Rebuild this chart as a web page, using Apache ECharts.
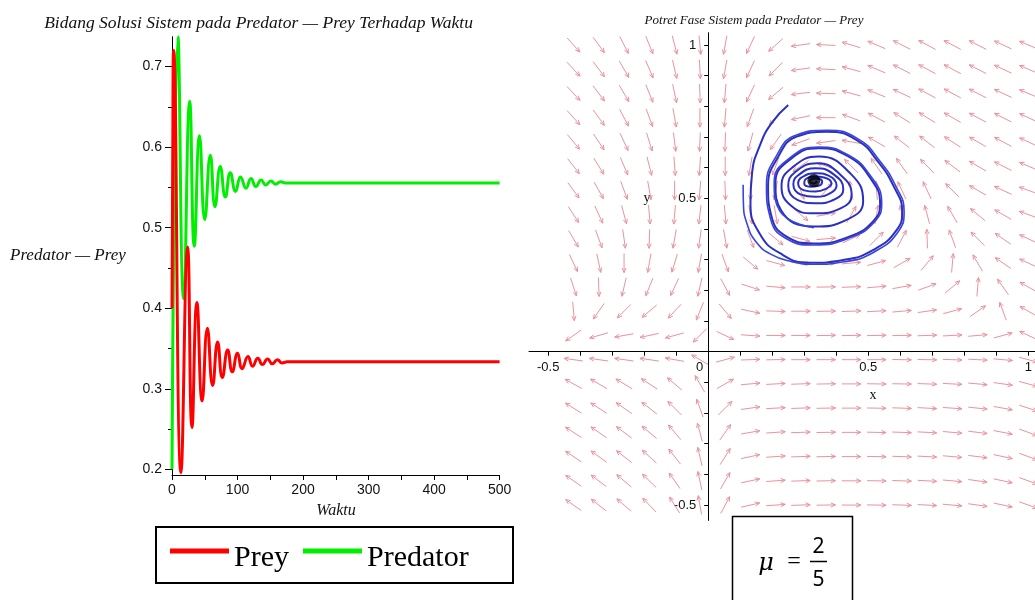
<!DOCTYPE html>
<html><head><meta charset="utf-8">
<script src="https://cdn.jsdelivr.net/npm/echarts@6/dist/echarts.min.js"></script>
<style>html,body{margin:0;padding:0;background:#fff}#c{width:1035px;height:600px}</style>
</head><body><div id="c"></div>
<script>
// ---- Left panel: time series (extrema) ----
const preyT   = [0, 1.2, 2.5, 13.7, 23.8, 30.5, 38, 46, 54, 62, 69.6, 76.8, 85, 92, 100, 107, 116, 123, 131, 138, 146, 153, 161, 168, 176, 500];
const preyV   = [0.40, 0.60, 0.72, 0.196, 0.476, 0.252, 0.407, 0.285, 0.375, 0.304, 0.358, 0.314, 0.348, 0.321, 0.344, 0.325, 0.340, 0.328, 0.338, 0.330, 0.337, 0.331, 0.336, 0.332, 0.3335, 0.3335];
const predT   = [0, 9, 17.8, 27, 34, 42, 50, 58.5, 65.6, 73.7, 81.4, 89, 97, 104.6, 113, 120.6, 128, 136, 143, 151, 158, 166, 173, 500];
const predV   = [0.20, 0.737, 0.412, 0.657, 0.477, 0.614, 0.510, 0.590, 0.526, 0.576, 0.538, 0.568, 0.545, 0.563, 0.549, 0.561, 0.551, 0.559, 0.553, 0.558, 0.554, 0.557, 0.5555, 0.5555];
const leftXTicks  = [0, 50, 100, 150, 200, 250, 300, 350, 400, 450, 500];
const leftXLabels = [0, 100, 200, 300, 400, 500];
const leftYMajor  = [0.2, 0.3, 0.4, 0.5, 0.6, 0.7];
const leftYMinor  = [0.25, 0.35, 0.45, 0.55, 0.65];

// ---- Right panel: phase portrait ----
const rightTicks   = [-0.5, -0.4, -0.3, -0.2, -0.1, 0, 0.1, 0.2, 0.3, 0.4, 0.5, 0.6, 0.7, 0.8, 0.9, 1.0];
const rightXLabels = [-0.5, 0, 0.5, 1];
const rightYLabels = [-0.5, 0.5, 1];
const fieldX = [-0.421, -0.342, -0.263, -0.184, -0.105, -0.026, 0.053, 0.132, 0.211, 0.289, 0.368, 0.447, 0.526, 0.605, 0.684, 0.763, 0.842, 0.921, 1.0];
const fieldY = [1.0, 0.921, 0.842, 0.763, 0.684, 0.605, 0.526, 0.447, 0.368, 0.289, 0.211, 0.132, 0.053, -0.026, -0.105, -0.184, -0.263, -0.342, -0.421, -0.5];
// arrow directions (degrees, 0 = right, 90 = up), one row per fieldY
const fieldAngle = [
 [-48,-54,-63,-68,-76,-85,-100,-115,222,188,177,163,157,153,152,152,153,155,157],
 [-47,-53,-60,-67,-77,-87,-100,-115,225,188,177,165,157,153,152,152,153,155,157],
 [-47,-53,-60,-68,-78,-88,-95,-115,220,187,178,165,158,155,152,152,153,155,157],
 [-48,-54,-62,-70,-80,-90,-95,-110,228,192,180,160,152,148,148,150,152,153,155],
 [-50,-56,-65,-73,-83,-92,-92,-105,235,200,188,170,150,142,142,147,150,152,155],
 [-52,-58,-67,-76,-86,-94,-90,-100,250,215,160,135,125,125,135,143,150,153,157],
 [-54,-61,-70,-80,-90,-95,-88,-90,-100,-70,50,100,95,115,115,135,150,155,160],
 [-57,-65,-75,-85,-95,-97,-85,-80,-80,-40,10,60,80,100,105,120,140,150,160],
 [-60,-70,-82,-92,-100,-98,-80,-70,-40,-15,5,25,45,62,92,110,135,145,155],
 [-65,-78,-90,-100,-107,-100,-70,-40,-15,-5,0,5,15,30,50,85,120,145,155],
 [-72,-88,-103,-112,-115,-103,-62,-18,-5,0,1,2,5,10,20,40,85,125,150],
 [-85,-125,-135,-140,-133,-112,-50,-12,-2,0,1,2,3,5,8,15,35,110,150],
 [215,196,190,192,195,225,-25,-4,0,0,1,1,1,1,2,3,5,15,155],
 [172,172,172,172,170,150,15,2,1,0,0,0,0,-1,-1,-2,-3,-5,-15],
 [151,150,149,147,140,120,30,5,3,2,1,0,-1,-1,-2,-3,-5,-8,-15],
 [148,147,145,142,135,110,45,8,3,2,1,0,-1,-2,-3,-4,-6,-10,-18],
 [147,145,143,140,130,105,55,10,4,2,1,0,-1,-2,-3,-5,-7,-11,-20],
 [146,144,142,138,128,103,58,12,4,2,1,0,-1,-2,-3,-5,-7,-12,-20],
 [145,143,140,136,125,102,60,12,4,2,1,0,-1,-2,-3,-5,-8,-12,-20],
 [145,142,139,134,122,100,62,13,4,2,1,0,-1,-2,-3,-5,-8,-12,-20]
];
const trajA = [[0.250,0.804],[0.198,0.745],[0.162,0.674],[0.137,0.582],[0.132,0.484],[0.160,0.386],[0.224,0.321],[0.318,0.290],[0.422,0.299],[0.516,0.332],[0.589,0.397],[0.606,0.458],[0.580,0.538],[0.531,0.619],[0.464,0.690],[0.370,0.717],[0.276,0.701],[0.219,0.636],[0.187,0.538],[0.198,0.440],[0.245,0.375],[0.330,0.353],[0.440,0.375],[0.515,0.425],[0.537,0.482],[0.505,0.568],[0.435,0.638],[0.345,0.663],[0.262,0.632],[0.210,0.550],[0.228,0.460],[0.330,0.408],[0.432,0.430],[0.484,0.490],[0.447,0.578],[0.345,0.636],[0.262,0.600],[0.229,0.540],[0.260,0.475],[0.332,0.451],[0.415,0.468],[0.448,0.512],[0.412,0.578],[0.340,0.614],[0.272,0.586],[0.250,0.540],[0.280,0.494],[0.335,0.484],[0.398,0.498],[0.422,0.530],[0.392,0.578],[0.335,0.598],[0.282,0.576],[0.266,0.545],[0.290,0.512],[0.335,0.505],[0.383,0.518],[0.401,0.542],[0.376,0.574],[0.335,0.582],[0.292,0.568],[0.281,0.548],[0.300,0.526],[0.335,0.522],[0.368,0.531],[0.385,0.548],[0.362,0.568],[0.335,0.571],[0.303,0.561],[0.300,0.548],[0.318,0.538],[0.345,0.541],[0.356,0.555],[0.336,0.565],[0.318,0.556],[0.330,0.548],[0.340,0.556]];
const trajB = [[0.109,0.544],[0.110,0.480],[0.122,0.415],[0.148,0.360],[0.195,0.318],[0.260,0.294],[0.330,0.285],[0.425,0.293],[0.520,0.326],[0.594,0.392],[0.612,0.458],[0.586,0.540],[0.536,0.622],[0.468,0.694],[0.372,0.722],[0.274,0.706],[0.214,0.640],[0.182,0.540],[0.194,0.436],[0.242,0.370],[0.330,0.348],[0.444,0.372],[0.520,0.424],[0.542,0.484],[0.508,0.572],[0.436,0.642],[0.345,0.667],[0.260,0.636],[0.206,0.552],[0.224,0.458],[0.330,0.404]];
const equilibrium = [[0.330, 0.558]];

const preyData = preyT.map((t, i) => [t, preyV[i]]);
const predData = predT.map((t, i) => [t, predV[i]]);
const fieldData = [];
fieldY.forEach((y, j) => fieldX.forEach((x, i) => fieldData.push([x, y, fieldAngle[j][i]])));

const ARROW = '#ea939d';
function rot(vx, vy, s) { return [vx * Math.cos(s) - vy * Math.sin(s), vx * Math.sin(s) + vy * Math.cos(s)]; }

const chart = echarts.init(document.getElementById('c'), null, {renderer: 'canvas'});
const axisBlack = {lineStyle: {color: '#000', width: 1}};
const leftLabelFont = {fontFamily: "'Liberation Sans Narrow','Liberation Sans',sans-serif", fontSize: 14, color: '#111'};
const rightLabelFont = {fontFamily: "'Liberation Sans',sans-serif", fontSize: 13, color: '#111'};

// right grid geometry
const RG = {left: 529, top: 32.7, width: 506, height: 487.7};
const RX = [-0.56, 1.021], RY = [-0.55, 1.04];
const zeroXpx = RG.left + (0 - RX[0]) / (RX[1] - RX[0]) * RG.width;
const zeroYpx = RG.top + (RY[1] - 0) / (RY[1] - RY[0]) * RG.height;

chart.setOption({
  animation: false,
  backgroundColor: '#fff',
  grid: [
    {left: 172, top: 36.7, width: 327.6, height: 438.3},
    RG
  ],
  xAxis: [
    {gridIndex: 0, type: 'value', min: 0, max: 500, axisLine: axisBlack,
     axisTick: {customValues: leftXTicks, length: 5, lineStyle: {color: '#000'}},
     axisLabel: Object.assign({customValues: leftXLabels, margin: 8}, leftLabelFont),
     splitLine: {show: false}},
    {gridIndex: 1, type: 'value', min: RX[0], max: RX[1], position: 'bottom',
     offset: -(RG.top + RG.height - zeroYpx),
     axisLine: Object.assign({onZero: false}, axisBlack),
     axisTick: {customValues: rightTicks, length: 4, lineStyle: {color: '#000'}},
     axisLabel: Object.assign({customValues: rightXLabels, margin: 9,
       formatter: v => (v === 0 ? '{z|0}' : String(v)),
       rich: {z: {padding: [0, 17, 0, 0], fontFamily: "'Liberation Sans',sans-serif", fontSize: 13, color: '#111'}}}, rightLabelFont),
     splitLine: {show: false}}
  ],
  yAxis: [
    {gridIndex: 0, type: 'value', min: 0.193, max: 0.737, axisLine: Object.assign({show: true}, axisBlack),
     axisTick: {show: true, customValues: leftYMajor, length: 7, lineStyle: {color: '#000'}},
     axisLabel: Object.assign({customValues: leftYMajor, margin: 10, formatter: v => v.toFixed(1)}, leftLabelFont),
     splitLine: {show: false}},
    {gridIndex: 0, type: 'value', min: 0.193, max: 0.737, position: 'left', axisLine: {show: false},
     axisTick: {show: true, customValues: leftYMinor, length: 4, lineStyle: {color: '#000'}},
     axisLabel: {show: false}, splitLine: {show: false}},
    {gridIndex: 1, type: 'value', min: RY[0], max: RY[1], position: 'left',
     offset: -(zeroXpx - RG.left),
     axisLine: Object.assign({show: true, onZero: false}, axisBlack),
     axisTick: {show: true, customValues: rightTicks, length: 4, lineStyle: {color: '#000'}},
     axisLabel: Object.assign({customValues: rightYLabels, margin: 12, formatter: v => String(v)}, rightLabelFont),
     splitLine: {show: false}}
  ],
  legend: {
    data: ['Prey', 'Predator'], left: 170, top: 543, icon: 'rect', itemWidth: 59, itemHeight: 5, itemGap: 14,
    padding: 0, selectedMode: false,
    formatter: '{t|{name}}',
    textStyle: {fontFamily: "'Liberation Serif',serif", fontSize: 30, color: '#000',
      rich: {t: {fontFamily: "'Liberation Serif',serif", fontSize: 30, color: '#000', padding: [14, 0, 0, 0]}}}
  },
  series: [
    {name: 'Prey', type: 'line', xAxisIndex: 0, yAxisIndex: 0, data: preyData, smooth: 0.5, showSymbol: false,
     lineStyle: {color: '#ff0000', width: 3}, itemStyle: {color: '#ff0000'}, z: 3},
    {name: 'Predator', type: 'line', xAxisIndex: 0, yAxisIndex: 0, data: predData, smooth: 0.5, showSymbol: false,
     lineStyle: {color: '#00ee00', width: 3}, itemStyle: {color: '#00ee00'}, z: 2},
    {name: 'field', type: 'custom', xAxisIndex: 1, yAxisIndex: 2, data: fieldData, encode: {x: 0, y: 1}, z: 1, silent: true,
     renderItem: function (params, api) {
       const c = api.coord([api.value(0), api.value(1)]);
       const a = api.value(2) * Math.PI / 180;
       const ux = Math.cos(a), uy = -Math.sin(a);
       const L = 19, h = 5, s = 0.42;
       const hx = c[0] + ux * L / 2, hy = c[1] + uy * L / 2;
       const tx = c[0] - ux * L / 2, ty = c[1] - uy * L / 2;
       const r1 = rot(-ux, -uy, s), r2 = rot(-ux, -uy, -s);
       return {type: 'group', children: [
         {type: 'line', shape: {x1: tx, y1: ty, x2: hx, y2: hy}, style: {stroke: ARROW, lineWidth: 1}},
         {type: 'polyline', shape: {points: [[hx + r1[0] * h, hy + r1[1] * h], [hx, hy], [hx + r2[0] * h, hy + r2[1] * h]]},
          style: {stroke: ARROW, fill: null, lineWidth: 1}}
       ]};
     }},
    {name: 'trajA', type: 'line', xAxisIndex: 1, yAxisIndex: 2, data: trajA, smooth: 0.5, showSymbol: false,
     lineStyle: {color: '#2a30c0', width: 2}, z: 4},
    {name: 'trajB', type: 'line', xAxisIndex: 1, yAxisIndex: 2, data: trajB, smooth: 0.5, showSymbol: false,
     lineStyle: {color: '#3a44d8', width: 1.6}, z: 4},
    {name: 'eq', type: 'scatter', xAxisIndex: 1, yAxisIndex: 2, data: equilibrium, symbolSize: 13,
     itemStyle: {color: '#000'}, z: 5}
  ],
  graphic: [
    {type: 'text', x: 258.5, y: 23, style: {text: 'Bidang Solusi Sistem pada Predator \u2014 Prey Terhadap Waktu',
      font: "italic 17.5px 'Liberation Serif'", fill: '#111', align: 'center', verticalAlign: 'middle', textAlign: 'center', textVerticalAlign: 'middle'}},
    {type: 'text', x: 10, y: 256, style: {text: 'Predator \u2014 Prey', font: "italic 17px 'Liberation Serif'", fill: '#111',
      align: 'left', verticalAlign: 'middle', textAlign: 'left', textVerticalAlign: 'middle'}},
    {type: 'text', x: 336, y: 511, style: {text: 'Waktu', font: "italic 16px 'Liberation Serif'", fill: '#111',
      align: 'center', verticalAlign: 'middle', textAlign: 'center', textVerticalAlign: 'middle'}},
    {type: 'text', x: 754, y: 21, style: {text: 'Potret Fase Sistem pada Predator \u2014 Prey', font: "italic 13px 'Liberation Serif'", fill: '#111',
      align: 'center', verticalAlign: 'middle', textAlign: 'center', textVerticalAlign: 'middle'}},
    {type: 'text', x: 873, y: 395, style: {text: 'x', font: "14px 'Liberation Serif'", fill: '#111',
      align: 'center', verticalAlign: 'middle', textAlign: 'center', textVerticalAlign: 'middle'}},
    {type: 'text', x: 647, y: 198, style: {text: 'y', font: "14px 'Liberation Serif'", fill: '#111',
      align: 'center', verticalAlign: 'middle', textAlign: 'center', textVerticalAlign: 'middle'}},
    {type: 'rect', shape: {x: 156, y: 527, width: 357, height: 56}, style: {fill: null, stroke: '#000', lineWidth: 2}, z: 10},
    {type: 'rect', shape: {x: 732.5, y: 516.5, width: 120, height: 90}, style: {fill: null, stroke: '#000', lineWidth: 1.5}, z: 10},
    {type: 'text', x: 766, y: 564, style: {text: '\u03bc', font: "italic 24px 'DejaVu Serif'", fill: '#000',
      align: 'center', verticalAlign: 'middle', textAlign: 'center', textVerticalAlign: 'middle'}},
    {type: 'text', x: 794, y: 562, style: {text: '=', font: "24px 'Liberation Serif'", fill: '#000',
      align: 'center', verticalAlign: 'middle', textAlign: 'center', textVerticalAlign: 'middle'}},
    {type: 'text', x: 818.5, y: 547, style: {text: '2', font: "21px 'Noto Sans'", fill: '#000',
      align: 'center', verticalAlign: 'middle', textAlign: 'center', textVerticalAlign: 'middle'}},
    {type: 'line', shape: {x1: 810, y1: 561.5, x2: 827, y2: 561.5}, style: {stroke: '#000', lineWidth: 1.5}},
    {type: 'text', x: 818.5, y: 580, style: {text: '5', font: "21px 'Noto Sans'", fill: '#000',
      align: 'center', verticalAlign: 'middle', textAlign: 'center', textVerticalAlign: 'middle'}}
  ]
});
</script></body></html>
